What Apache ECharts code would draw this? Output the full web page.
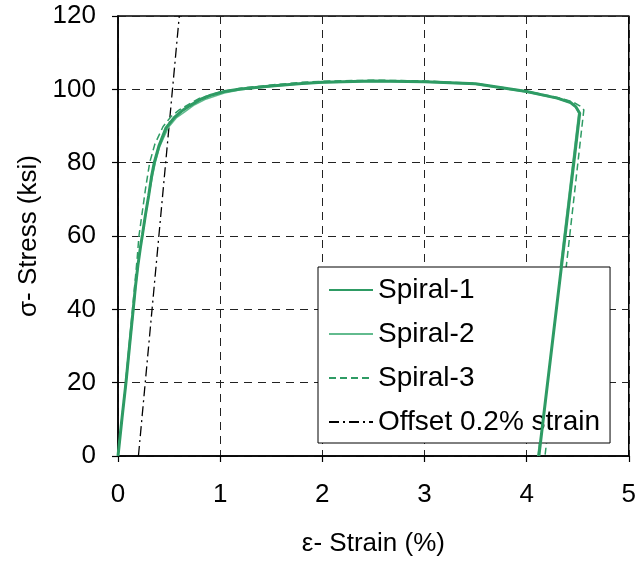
<!DOCTYPE html>
<html>
<head>
<meta charset="utf-8">
<script src="https://cdn.jsdelivr.net/npm/echarts@6/dist/echarts.min.js"></script>
<style>html,body{margin:0;padding:0;background:#fff;}#chart{width:639px;height:562px;}</style>
</head>
<body>
<div id="chart"></div>
<script>
var xTicks = [0, 1, 2, 3, 4, 5];
var yTicks = [0, 20, 40, 60, 80, 100, 120];

var spiral1 = [[0,0],[0.04,10.5],[0.078,20],[0.113,30],[0.149,40],[0.17,46],[0.195,52],[0.22,57],[0.24,60.5],[0.27,66],[0.3,71],[0.33,76.5],[0.355,80],[0.4,84.5],[0.47,89.5],[0.55,92.3],[0.62,94],[0.7,95.5],[0.81,97.3],[0.9,98.3],[1.04,99.4],[1.2,100.1],[1.5,100.9],[1.8,101.6],[2.0,101.9],[2.5,102.3],[3.0,102.1],[3.5,101.5],[4.0,99.4],[4.3,97.6],[4.43,96.4],[4.48,95.3],[4.52,93.5],[4.12,0]];
var spiral2 = [[0,0],[0.04,10.5],[0.079,20],[0.115,30],[0.152,40],[0.175,46.5],[0.2,53],[0.225,58],[0.245,61],[0.275,66.5],[0.305,71.5],[0.335,76],[0.365,80],[0.41,84.5],[0.49,89.5],[0.57,92.2],[0.66,94],[0.75,95.8],[0.85,97.2],[1.04,99.0],[1.2,99.9],[1.5,100.8],[1.8,101.5],[2.0,101.8],[2.5,102.2],[3.0,102.0],[3.5,101.4],[4.0,99.3],[4.3,97.5],[4.43,96.3],[4.48,95.2],[4.51,93.6],[4.11,0]];
var spiral3 = [[0,0],[0.038,10.5],[0.074,20],[0.108,30],[0.142,40],[0.165,47],[0.188,54],[0.205,60],[0.235,66],[0.27,73],[0.31,80],[0.36,85],[0.44,89.8],[0.52,92.6],[0.6,94.4],[0.7,96],[0.8,97.6],[1.0,99.3],[1.2,100.3],[1.5,101.2],[1.8,101.9],[2.0,102.2],[2.5,102.5],[3.0,102.3],[3.5,101.6],[4.0,99.5],[4.3,97.8],[4.45,96.6],[4.52,95.5],[4.56,94.4],[4.18,0]];
var offsetLine = [[0.2,0],[0.6,120]];

var green = '#2e9b64';
var font = 'Liberation Sans, Arial, Helvetica, sans-serif';

var chart = echarts.init(document.getElementById('chart'), null, {renderer:'canvas'});
chart.setOption({
  animation: false,
  backgroundColor: '#fff',
  grid: {left:118, right:7, top:16, bottom:101, show:true, borderColor:'#000', borderWidth:1.5, backgroundColor:'transparent'},
  xAxis: {
    type:'value', min:0, max:5, interval:1,
    name:'ε- Strain (%)', nameLocation:'middle', nameGap:75,
    nameTextStyle:{fontSize:26, color:'#000', fontFamily:font},
    axisLine:{show:true, lineStyle:{color:'#000', width:1.5}},
    axisTick:{show:true, inside:false, length:6, lineStyle:{color:'#000', width:1.2}},
    axisLabel:{fontSize:26, color:'#000', fontFamily:font, margin:26, formatter:function(v){return xTicks.indexOf(v)>=0? String(v):'';}},
    splitLine:{show:true, lineStyle:{color:'#222', width:1, type:[8,6]}}
  },
  yAxis: {
    type:'value', min:0, max:120, interval:20,
    name:'σ- Stress (ksi)', nameLocation:'middle', nameGap:72,
    nameTextStyle:{fontSize:26, color:'#000', fontFamily:font},
    axisLine:{show:true, lineStyle:{color:'#000', width:1.5}},
    axisTick:{show:true, inside:false, length:6, lineStyle:{color:'#000', width:1.2}},
    axisLabel:{fontSize:26, color:'#000', fontFamily:font, margin:22, formatter:function(v){return yTicks.indexOf(v)>=0? String(v):'';}},
    splitLine:{show:true, lineStyle:{color:'#222', width:1, type:[8,6]}}
  },
  legend: {
    orient:'vertical', left:318, top:267,
    backgroundColor:'#fff', borderColor:'#000', borderWidth:1,
    padding:[9,10,7,10], itemGap:16, itemWidth:44, itemHeight:14,
    itemStyle:{opacity:0},
    textStyle:{fontSize:28, color:'#000', fontFamily:font},
    data:['Spiral-1','Spiral-2','Spiral-3','Offset 0.2% strain']
  },
  series: [
    {name:'Offset 0.2% strain', type:'line', data:offsetLine, symbol:'none', z:1,
     lineStyle:{color:'#000', width:1.3, type:[10,4,2,4]}, itemStyle:{color:'#000'}},
    {name:'Spiral-3', type:'line', data:spiral3, symbol:'none', z:2,
     lineStyle:{color:green, width:1.5, type:[7,4]}, itemStyle:{color:green}},
    {name:'Spiral-2', type:'line', data:spiral2, symbol:'none', z:3,
     lineStyle:{color:'#62bb8e', width:1.5}, itemStyle:{color:'#62bb8e'}},
    {name:'Spiral-1', type:'line', data:spiral1, symbol:'none', z:4,
     lineStyle:{color:green, width:3}, itemStyle:{color:green}}
  ]
});
</script>
</body>
</html>
